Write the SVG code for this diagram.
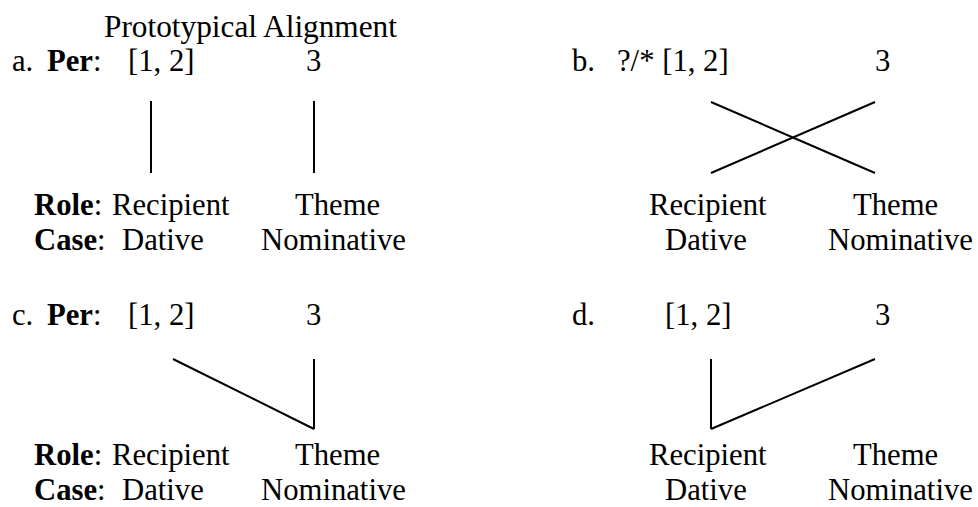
<svg xmlns="http://www.w3.org/2000/svg" width="978" height="507" viewBox="0 0 978 507">
  <style>
    text { font-family: "Liberation Serif", "Times New Roman", serif; font-size: 30.7px; fill: #000; }
    .b { font-weight: bold; }
    .title { font-size: 31.3px; }
    .link { stroke: #000; stroke-width: 2; fill: none; stroke-linecap: butt; }
  </style>
  <rect width="978" height="507" fill="#fff"/>

  <text class="title" x="104" y="37">Prototypical Alignment</text>

  <!-- a. prototypical alignment -->
  <g id="panel-a">
    <g id="a-label"><text x="12" y="71">a.</text></g>
    <g id="a-per"><text x="47" y="71"><tspan class="b">Per</tspan>:</text></g>
    <g id="a-12"><text x="128" y="71">[1, 2]</text></g>
    <g id="a-3"><text x="306" y="71">3</text></g>
    <g id="a-role">
      <text x="34" y="215"><tspan class="b">Role</tspan>:</text>
      <text x="34" y="250"><tspan class="b">Case</tspan>:</text>
    </g>
    <g id="a-recipient">
      <text x="112" y="215">Recipient</text>
      <text x="122" y="250">Dative</text>
    </g>
    <g id="a-theme">
      <text x="295" y="215">Theme</text>
      <text x="261" y="250">Nominative</text>
    </g>
  </g>

  <!-- b. crossed alignment -->
  <g id="panel-b">
    <g id="b-label"><text x="572" y="71">b.</text></g>
    <g id="b-12"><text x="617" y="71">?/* [1, 2]</text></g>
    <g id="b-3"><text x="875" y="71">3</text></g>
    <g id="b-recipient">
      <text x="649" y="215">Recipient</text>
      <text x="665" y="250">Dative</text>
    </g>
    <g id="b-theme">
      <text x="853" y="215">Theme</text>
      <text x="828" y="250">Nominative</text>
    </g>
  </g>

  <!-- c. both persons on the theme -->
  <g id="panel-c">
    <g id="c-label"><text x="12" y="325">c.</text></g>
    <g id="c-per"><text x="47" y="325"><tspan class="b">Per</tspan>:</text></g>
    <g id="c-12"><text x="128" y="325">[1, 2]</text></g>
    <g id="c-3"><text x="306" y="325">3</text></g>
    <g id="c-role">
      <text x="34" y="465"><tspan class="b">Role</tspan>:</text>
      <text x="34" y="500"><tspan class="b">Case</tspan>:</text>
    </g>
    <g id="c-recipient">
      <text x="112" y="465">Recipient</text>
      <text x="122" y="500">Dative</text>
    </g>
    <g id="c-theme">
      <text x="295" y="465">Theme</text>
      <text x="261" y="500">Nominative</text>
    </g>
  </g>

  <!-- d. both persons on the recipient -->
  <g id="panel-d">
    <g id="d-label"><text x="572" y="325">d.</text></g>
    <g id="d-12"><text x="665" y="325">[1, 2]</text></g>
    <g id="d-3"><text x="875" y="325">3</text></g>
    <g id="d-recipient">
      <text x="649" y="465">Recipient</text>
      <text x="665" y="500">Dative</text>
    </g>
    <g id="d-theme">
      <text x="853" y="465">Theme</text>
      <text x="828" y="500">Nominative</text>
    </g>
  </g>

  <!-- association lines -->
  <g id="connectors">
    <line class="link" x1="151" y1="101" x2="151" y2="173"/>
    <line class="link" x1="314" y1="101" x2="314" y2="173"/>

    <line class="link" x1="711" y1="102" x2="875" y2="173"/>
    <line class="link" x1="875" y1="102" x2="711" y2="173"/>

    <line class="link" x1="173" y1="359" x2="314" y2="429"/>
    <line class="link" x1="314" y1="359" x2="314" y2="429"/>

    <line class="link" x1="711" y1="359" x2="711" y2="429"/>
    <line class="link" x1="875" y1="359" x2="711" y2="429"/>
  </g>
</svg>
